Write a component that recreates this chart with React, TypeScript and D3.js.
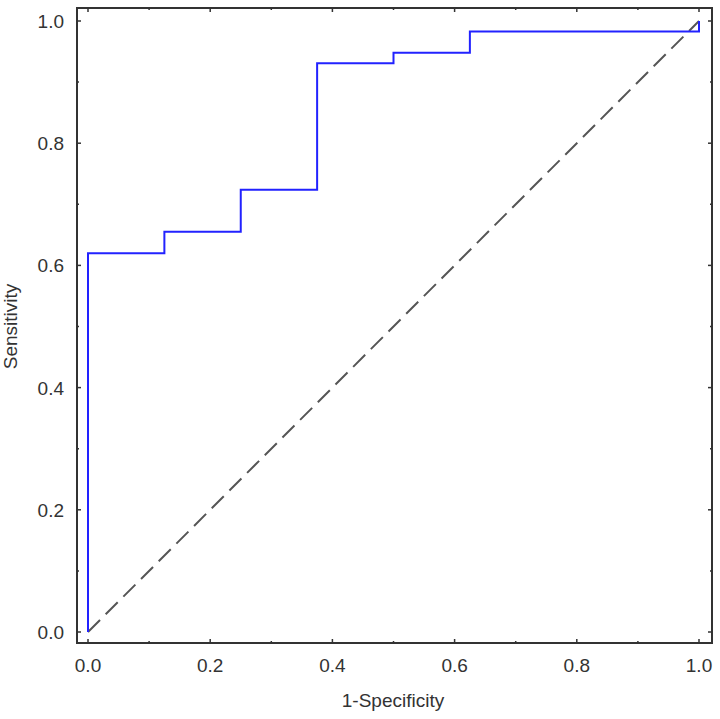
import React, { useRef, useEffect } from 'react';
import * as d3 from 'd3';

// ROC step curve (1-specificity, sensitivity)
const fprValues = [0, 0, 0.125, 0.125, 0.25, 0.25, 0.375, 0.375, 0.5, 0.5, 0.625, 0.625, 1.0, 1.0];
const tprValues = [0, 0.62, 0.62, 0.655, 0.655, 0.724, 0.724, 0.931, 0.931, 0.948, 0.948, 0.983, 0.983, 1.0];
const majorTicks = [0, 0.2, 0.4, 0.6, 0.8, 1.0];
const minorTicks = [0.1, 0.3, 0.5, 0.7, 0.9];
const xTitle = '1-Specificity';
const yTitle = 'Sensitivity';

const App = () => {
    const svgRef = useRef<SVGSVGElement>(null);

    useEffect(() => {
        const svg = d3.select(svgRef.current);
        svg.selectAll('*').remove();

        const frame = { left: 77, top: 8, right: 712, bottom: 643 };
        const x = d3.scaleLinear().domain([0, 1]).range([88, 699]);
        const y = d3.scaleLinear().domain([0, 1]).range([632, 21]);
        const font = 'Liberation Sans, Arial, sans-serif';
        const ink = '#333';
        const fs = 19;

        svg.append('rect')
            .attr('width', 720).attr('height', 719).attr('fill', '#fff');

        // diagonal reference line
        svg.append('line')
            .attr('x1', x(0)).attr('y1', y(0))
            .attr('x2', x(1)).attr('y2', y(1))
            .attr('stroke', '#555')
            .attr('stroke-width', 2)
            .attr('stroke-dasharray', '17,8');

        // ROC curve
        const pts: [number, number][] = fprValues.map((v, i) => [v, tprValues[i]]);
        svg.append('path')
            .datum(pts)
            .attr('fill', 'none')
            .attr('stroke', '#2222ff')
            .attr('stroke-width', 2)
            .attr('d', d3.line<[number, number]>()
                .x(d => x(d[0]))
                .y(d => y(d[1])));

        // frame
        svg.append('rect')
            .attr('x', frame.left).attr('y', frame.top)
            .attr('width', frame.right - frame.left)
            .attr('height', frame.bottom - frame.top)
            .attr('fill', 'none')
            .attr('stroke', ink)
            .attr('stroke-width', 2);

        // ticks on all four sides, pointing inward
        const tick = (vals: number[], len: number) => {
            vals.forEach(v => {
                svg.append('line').attr('x1', x(v)).attr('x2', x(v))
                    .attr('y1', frame.bottom).attr('y2', frame.bottom - len)
                    .attr('stroke', ink).attr('stroke-width', 1.5);
                svg.append('line').attr('x1', x(v)).attr('x2', x(v))
                    .attr('y1', frame.top).attr('y2', frame.top + len)
                    .attr('stroke', ink).attr('stroke-width', 1.5);
                svg.append('line').attr('y1', y(v)).attr('y2', y(v))
                    .attr('x1', frame.left).attr('x2', frame.left + len)
                    .attr('stroke', ink).attr('stroke-width', 1.5);
                svg.append('line').attr('y1', y(v)).attr('y2', y(v))
                    .attr('x1', frame.right).attr('x2', frame.right - len)
                    .attr('stroke', ink).attr('stroke-width', 1.5);
            });
        };
        tick(majorTicks, 4);
        tick(minorTicks, 2);

        // tick labels
        majorTicks.forEach(v => {
            svg.append('text')
                .attr('x', x(v)).attr('y', 672)
                .attr('text-anchor', 'middle')
                .attr('font-family', font).attr('font-size', fs)
                .attr('fill', ink)
                .text(d3.format('.1f')(v));
            svg.append('text')
                .attr('x', 64).attr('y', y(v) + 7)
                .attr('text-anchor', 'end')
                .attr('font-family', font).attr('font-size', fs)
                .attr('fill', ink)
                .text(d3.format('.1f')(v));
        });

        // axis titles
        svg.append('text')
            .attr('x', 393).attr('y', 707)
            .attr('text-anchor', 'middle')
            .attr('font-family', font).attr('font-size', fs)
            .attr('fill', ink)
            .text(xTitle);
        svg.append('text')
            .attr('transform', `translate(17,${y(0.5)}) rotate(-90)`)
            .attr('text-anchor', 'middle')
            .attr('font-family', font).attr('font-size', fs)
            .attr('fill', ink)
            .text(yTitle);
    }, []);

    return (
        <svg ref={svgRef} width={720} height={719}
            style={{ position: 'absolute', left: 0, top: 0, display: 'block' }}></svg>
    );
};

export default App;
